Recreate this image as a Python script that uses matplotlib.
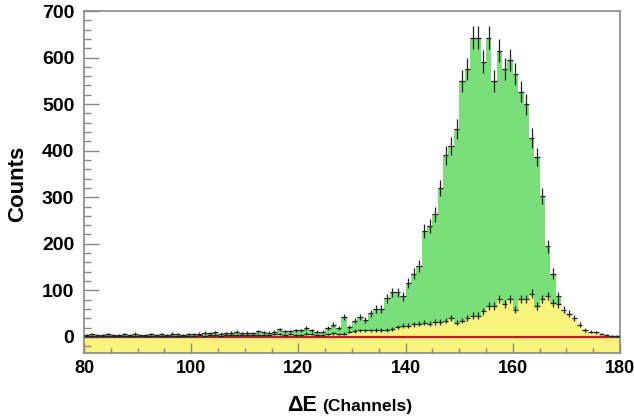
import numpy as np
import matplotlib
matplotlib.use("Agg")
from matplotlib import pyplot as plt
from matplotlib.ticker import MultipleLocator

# Channel bins 80..179, width 1
channels = np.arange(80, 180)

# Green histogram (all events), bins 80..179
green_counts = [
    5, 6, 4, 5, 6, 5, 4, 6, 5, 7, 5, 4, 6, 5, 6, 5, 7, 6, 5, 6,  # 80-99
    6, 7, 9, 8, 10, 7, 8, 9, 11, 8, 9, 8, 12, 10, 9, 11,  # 100-115
    16, 12, 12, 14, 14, 19, 14, 11, 11, 19, 26, 19, 42, 22, 35, 42,  # 116-131
    37, 51, 60, 60, 83, 96, 96, 87, 116, 136, 152,  # 132-142
    227, 238, 263, 320, 390, 410, 446, 549, 575, 643, 643,  # 143-153
    591, 643, 550, 615, 575, 595, 565, 527, 500, 427, 386,  # 154-164
    302, 195, 136, 87,  # 165-168
    0, 0, 0, 0, 0, 0, 0, 0, 0, 0, 0,  # 169-179
]

# Yellow histogram (selected events), bins 80..179
yellow_counts = [
    3, 2, 3, 2, 3, 3, 2, 3, 2, 3, 3, 2, 3, 3, 2, 3, 3, 2, 3, 3,  # 80-99
    3, 4, 3, 4, 4, 3, 5, 4, 4, 5, 4, 5, 5, 4, 5, 6,  # 100-115
    6, 5, 6, 5, 5, 7, 6, 5, 4, 6, 8, 6, 7, 11, 13, 14,  # 116-131
    14, 14, 15, 15, 15, 17, 22, 24, 24, 27, 28,  # 132-142
    31, 28, 32, 32, 35, 40, 31, 35, 40, 46, 46,  # 143-153
    55, 67, 67, 82, 71, 82, 58, 82, 82, 93, 67,  # 154-164
    82, 88, 73, 70, 58, 50, 40, 26, 15, 11, 10,  # 165-175
    6, 4, 3, 2,  # 176-179
]

y_bottom = -34.5
y_top = 700

green_counts = np.array(green_counts, dtype=float)
yellow_counts = np.array(yellow_counts, dtype=float)
edges = np.append(channels, channels[-1] + 1)
centers = channels + 0.5

plt.rcParams["font.family"] = ["Liberation Sans", "DejaVu Sans"]
plt.rcParams["font.weight"] = "bold"

fig = plt.figure(figsize=(6.34, 4.2), dpi=100)
ax = fig.add_axes([84 / 634, 1 - 353 / 420, 536 / 634, 342 / 420])

# Filled histograms, drawn from the bottom of the frame like ROOT does
ax.stairs(green_counts, edges, baseline=y_bottom, fill=True, color="#7ade7a", lw=0)
ax.stairs(yellow_counts, edges, baseline=y_bottom, fill=True, color="#f8f47c", lw=0)

ax.axhline(0, color="#b3241c", lw=1.6, zorder=2.5)

# Error crosses
mask = green_counts > 0
ax.errorbar(centers[mask], green_counts[mask], yerr=np.sqrt(green_counts[mask]),
            xerr=0.5, fmt="none", ecolor="#222222", elinewidth=0.9, capsize=0, zorder=3)
ax.errorbar(centers, yellow_counts, yerr=np.sqrt(yellow_counts),
            xerr=0.5, fmt="none", ecolor="#222222", elinewidth=0.9, capsize=0, zorder=3)

ax.set_xlim(80, 180)
ax.set_ylim(y_bottom, y_top)

ax.xaxis.set_major_locator(MultipleLocator(20))
ax.xaxis.set_minor_locator(MultipleLocator(5))
ax.yaxis.set_major_locator(MultipleLocator(100))
ax.yaxis.set_minor_locator(MultipleLocator(20))

ax.tick_params(axis="both", which="both", direction="in", color="#888888", width=1,
               top=False, right=False)
ax.tick_params(axis="y", which="major", length=10.8, pad=7, labelsize=14)
ax.tick_params(axis="y", which="minor", length=5)
ax.tick_params(axis="x", which="major", length=7.2, pad=5, labelsize=13)
ax.tick_params(axis="x", which="minor", length=3.6)

for lab in ax.get_xticklabels() + ax.get_yticklabels():
    lab.set_fontweight("bold")

for sp in ax.spines.values():
    sp.set_color("#888888")
    sp.set_linewidth(1.2)

fig.text(18 / 634, 1 - 184 / 420, "Counts", rotation=90, ha="center", va="center",
         fontsize=16, fontweight="bold")
fig.text(317 / 634, 1 - 411 / 420, "\u0394E", ha="right", va="baseline",
         fontsize=15.5, fontweight="bold")
fig.text(322 / 634, 1 - 411 / 420, "(Channels)", ha="left", va="baseline",
         fontsize=12.5, fontweight="bold")

fig.savefig("out.png", dpi=100)
